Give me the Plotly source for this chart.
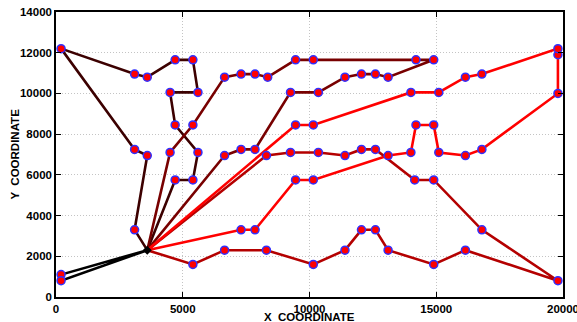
import plotly.graph_objects as go

depot = (3600, 2300)

# Route node sequences (x, y), each starting and ending at the depot
route1_x = [3600, 200, 200, 3600]
route1_y = [2300, 1100, 800, 2300]

route2_x = [3600, 3100, 3600, 3100, 200, 3100, 3600, 4700, 5400, 5600, 4500, 4700, 5600, 5400, 4700, 3600]
route2_y = [2300, 3300, 6950, 7250, 12200, 10950, 10800, 11650, 11650, 10050, 10050, 8450, 7100, 5750, 5750, 2300]

route3_x = [3600, 4500, 5400, 6650, 7300, 7850, 8350, 9450, 10150, 14200, 14900, 13100, 12600, 12050, 11400, 10350, 9250, 7850, 7300, 6650, 3600]
route3_y = [2300, 7100, 8450, 10800, 10950, 10950, 10800, 11650, 11650, 11650, 11650, 10800, 10950, 10950, 10800, 10050, 10050, 7250, 7250, 6950, 2300]

route4_x = [3600, 8300, 9250, 10350, 11400, 12050, 12600, 14150, 14900, 16800, 19800, 16150, 14900, 13100, 12600, 12050, 11400, 10150, 8300, 6650, 5400, 3600]
route4_y = [2300, 6950, 7100, 7100, 6950, 7250, 7250, 5750, 5750, 3300, 800, 2300, 1600, 2300, 3300, 3300, 2300, 1600, 2300, 2300, 1600, 2300]

route5_x = [3600, 7300, 7850, 9450, 10150, 13100, 14000, 14200, 14900, 15100, 16150, 16800, 19800, 19800, 19800, 16800, 16150, 15100, 14000, 10150, 9450, 3600]
route5_y = [2300, 3300, 3300, 5750, 5750, 6950, 7100, 8450, 8450, 7100, 6950, 7250, 10000, 11900, 12200, 10950, 10800, 10050, 10050, 8450, 8450, 2300]

routes = [(route1_x, route1_y), (route2_x, route2_y), (route3_x, route3_y),
          (route4_x, route4_y), (route5_x, route5_y)]
route_colors = ["#000000", "#3c0000", "#780000", "#b40000", "#ff0000"]

x_ticks = [0, 5000, 10000, 15000, 20000]
y_ticks = [0, 2000, 4000, 6000, 8000, 10000, 12000, 14000]

fig = go.Figure()

for (rx, ry), col in zip(routes, route_colors):
    fig.add_trace(go.Scatter(x=rx, y=ry, mode="lines",
                             line=dict(color=col, width=2.6),
                             hoverinfo="skip", showlegend=False))

cx, cy = [], []
for rx, ry in routes:
    cx += rx[1:-1]
    cy += ry[1:-1]
fig.add_trace(go.Scatter(x=cx, y=cy, mode="markers",
                         marker=dict(color="#ff0000", size=8,
                                     line=dict(color="#3030ff", width=1.5)),
                         showlegend=False))
fig.add_trace(go.Scatter(x=[depot[0]], y=[depot[1]], mode="markers",
                         marker=dict(color="black", size=7, symbol="diamond"),
                         showlegend=False))

tickfont = dict(family="Liberation Sans, Arial", size=11.5, color="black", weight="bold")
axis_common = dict(showline=True, linecolor="black", linewidth=1.5, mirror="allticks",
                   ticks="inside", ticklen=5, tickcolor="black", tickwidth=1,
                   showgrid=True, gridcolor="#c4c4c4", griddash="1px,2px", gridwidth=1,
                   zeroline=False, tickfont=tickfont, automargin=False,
                   ticklabeloverflow="allow")

fig.update_xaxes(range=[0, 20000], tickvals=x_ticks, ticktext=[str(v) for v in x_ticks], **axis_common)
fig.update_yaxes(range=[0, 14000], tickvals=y_ticks, ticktext=[str(v) for v in y_ticks], **axis_common)

titlefont = dict(family="Liberation Sans, Arial", size=11.5, color="black", weight="bold")
fig.add_annotation(text="X  COORDINATE", xref="paper", yref="paper", x=0.5, y=0,
                   yanchor="middle", xanchor="center", yshift=-20, showarrow=False, font=titlefont)
fig.add_annotation(text="Y  COORDINATE", xref="paper", yref="paper", x=0, y=0.5,
                   xanchor="center", yanchor="middle", xshift=-42, textangle=-90,
                   showarrow=False, font=titlefont)

fig.update_layout(width=577, height=322, margin=dict(l=56, r=14, t=12, b=25, autoexpand=False),
                  paper_bgcolor="white", plot_bgcolor="white", showlegend=False)

fig.write_html("out.html", config={"displayModeBar": False},
               post_script="document.body.style.margin='0';document.body.style.padding='0';")
